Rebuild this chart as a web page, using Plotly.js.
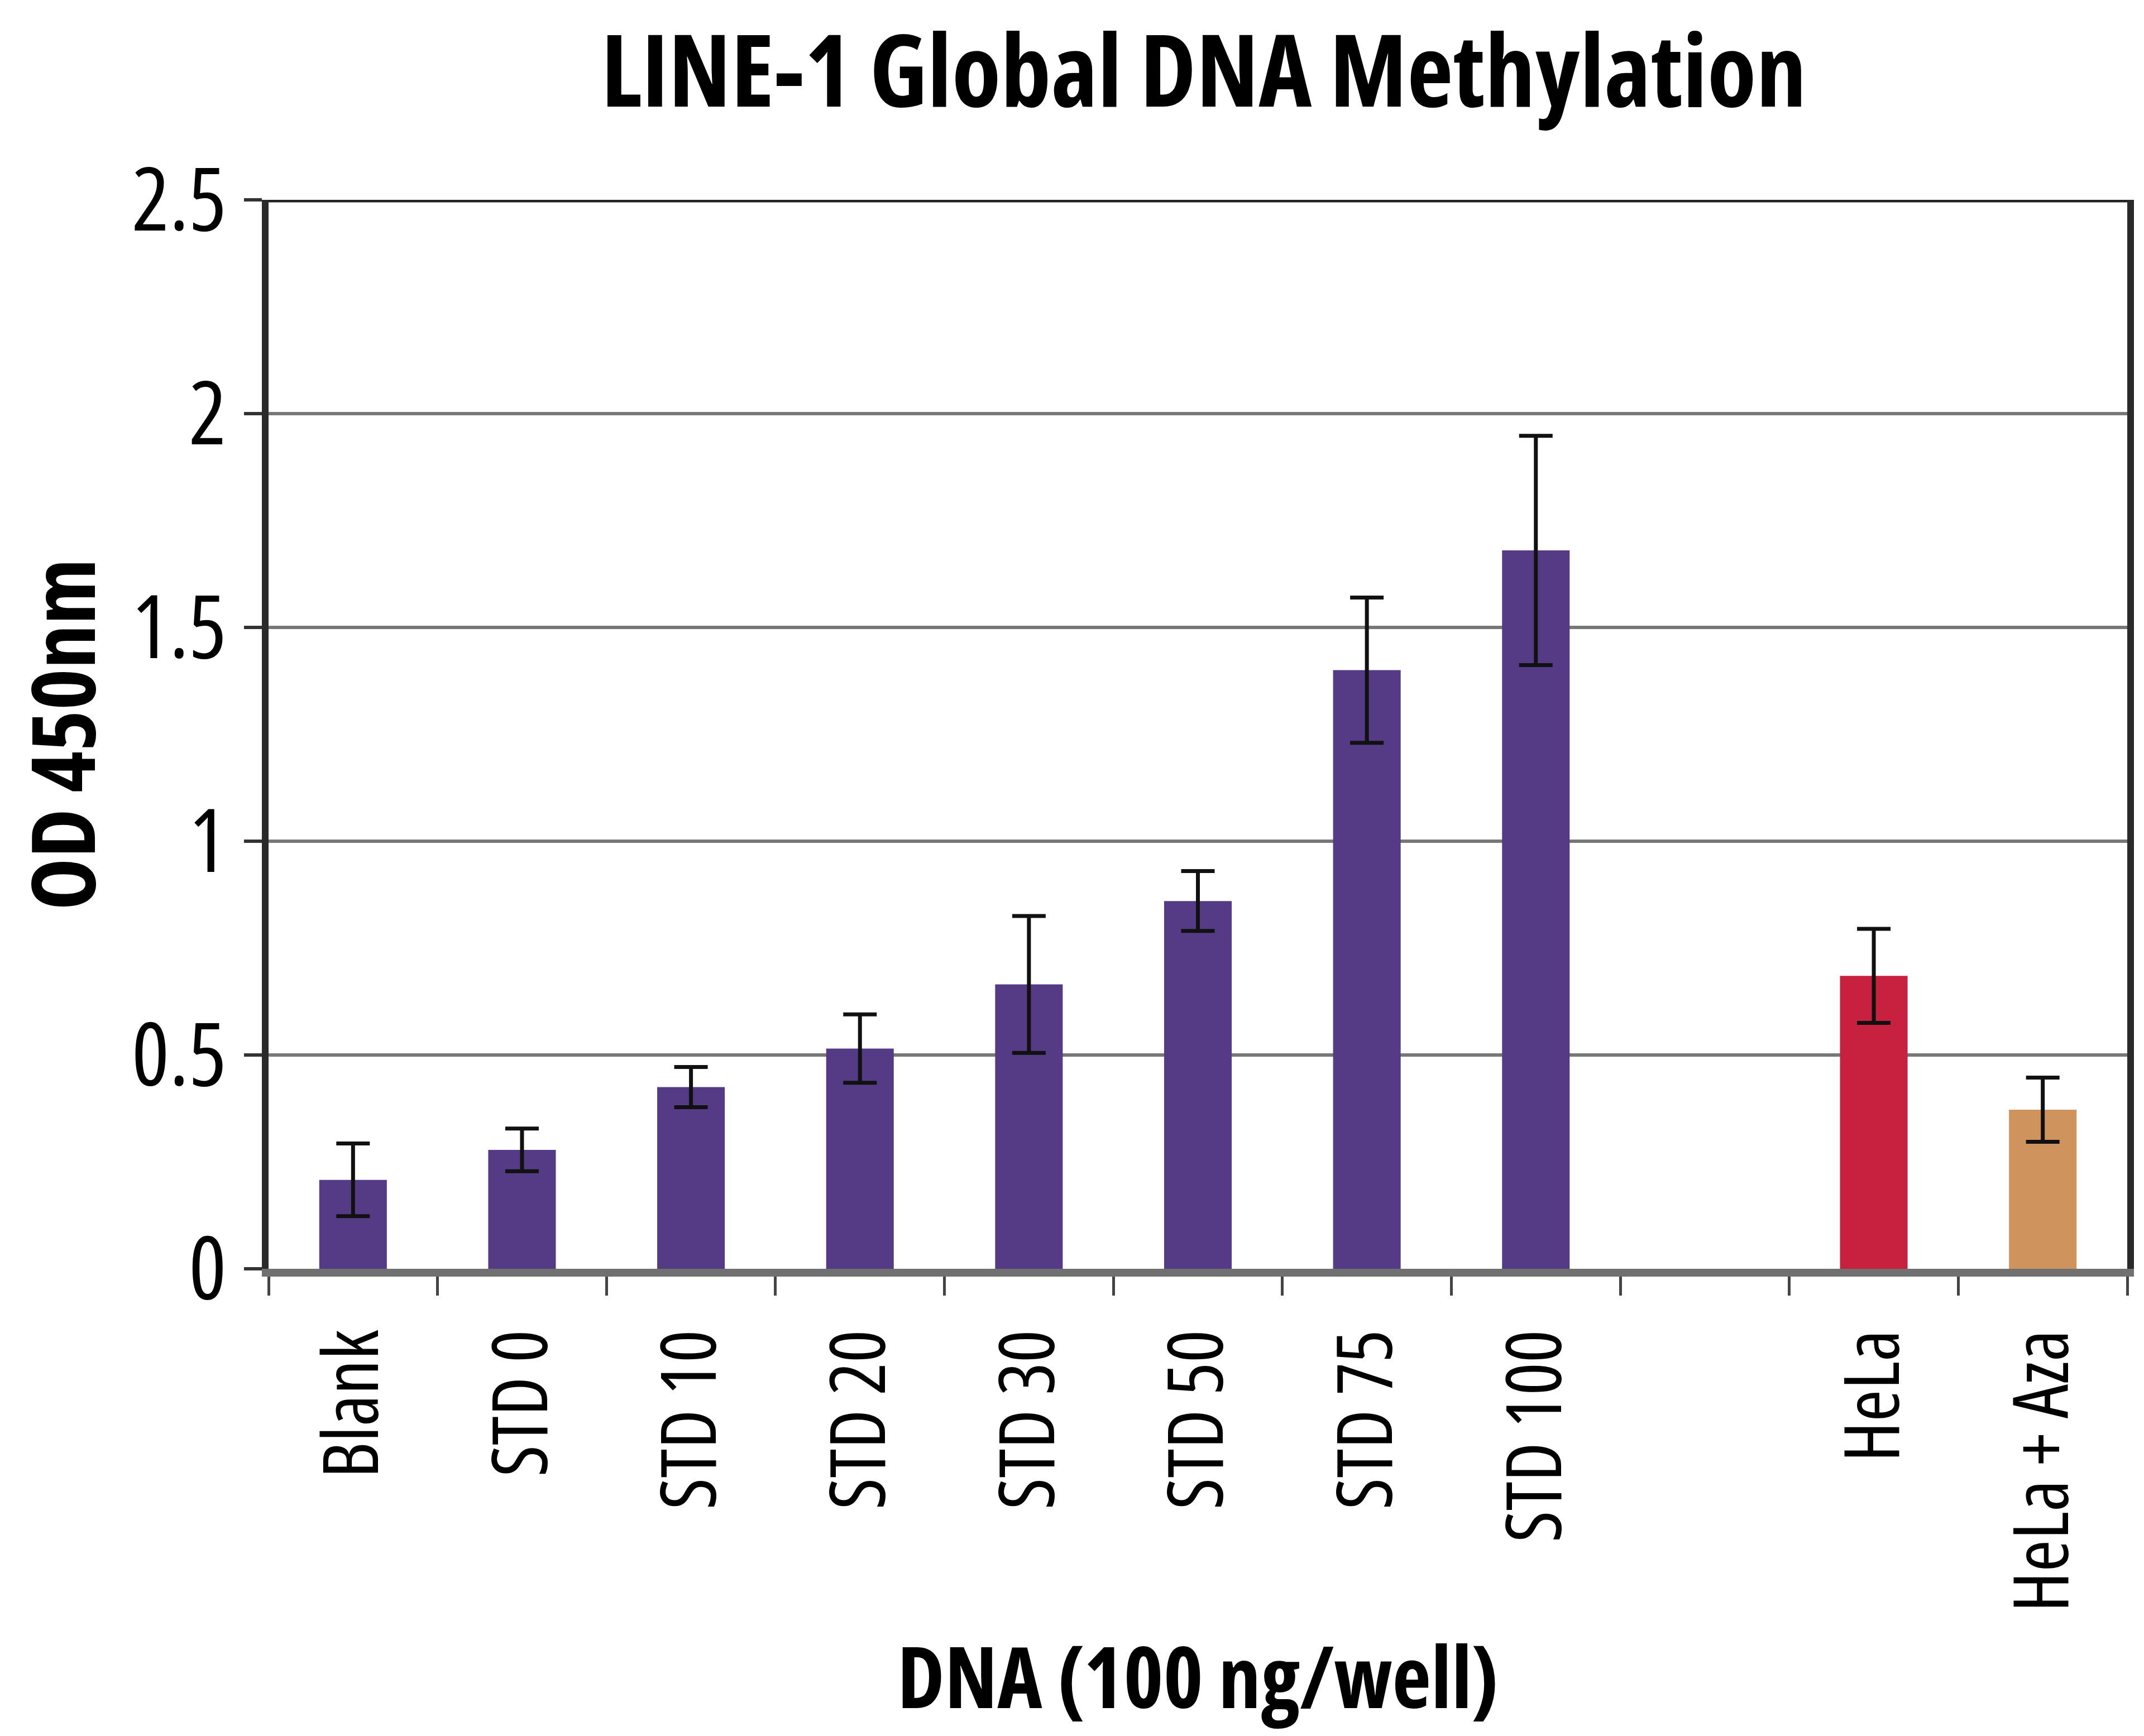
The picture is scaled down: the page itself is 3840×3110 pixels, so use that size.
<!DOCTYPE html>
<html>
<head>
<meta charset="utf-8">
<script src="https://cdn.plot.ly/plotly-3.0.1.min.js"></script>
<style>
  html, body { margin: 0; padding: 0; background: #ffffff; }
  #chart { width: 3840px; height: 3110px; }
  svg text { font-stretch: 75% !important; }
  svg .xtick text { font-stretch: 81% !important; }
</style>
</head>
<body>
<div id="chart"></div>
<script>
// ---- data ----
const categories = ["Blank", "STD 0", "STD 10", "STD 20", "STD 30", "STD 50", "STD 75", "STD 100", " ", "HeLa", "HeLa + Aza"];
const odValues   = [0.208, 0.278, 0.425, 0.515, 0.665, 0.86, 1.40, 1.68, null, 0.685, 0.372];
const odErrors   = [0.085, 0.05, 0.047, 0.08, 0.16, 0.07, 0.17, 0.268, null, 0.11, 0.075];
const barColors  = ["#553b85", "#553b85", "#553b85", "#553b85", "#553b85", "#553b85", "#553b85", "#553b85", "#553b85", "#c8213f", "#cf935d"];
const yTickVals  = [0, 0.5, 1, 1.5, 2, 2.5];
const yMax = 2.5;

const chartTitle = "LINE-1 Global DNA Methylation";
const xTitle = "DNA (100 ng/well)";
const yTitle = "OD 450nm";

const FONT = '"Open Sans", "Roboto Condensed", "Liberation Sans", Arial, sans-serif';

const trace = {
  type: "bar",
  x: categories,
  y: odValues,
  marker: { color: barColors, line: { width: 0 } },
  error_y: {
    type: "data",
    array: odErrors,
    visible: true,
    color: "#111111",
    thickness: 7,
    width: 30
  },
  hoverinfo: "x+y"
};

const layout = {
  width: 3840,
  height: 3110,
  paper_bgcolor: "#ffffff",
  plot_bgcolor: "#ffffff",
  showlegend: false,
  bargap: 0.6,
  margin: { l: 481, r: 30, t: 358, b: 837, pad: 0 },
  font: { family: FONT, color: "#000000" },
  title: {
    text: "<b>" + chartTitle + "</b>",
    font: { family: FONT, size: 180, color: "#000000" },
    xref: "container", yref: "container",
    x: 0.5615, xanchor: "center",
    y: 0.959, yanchor: "middle"
  },
  annotations: [{
    text: "<b>" + yTitle + "</b>",
    xref: "paper", yref: "paper",
    x: -0.112, y: 0.5,
    xanchor: "center", yanchor: "middle",
    textangle: -90,
    showarrow: false,
    font: { family: FONT, size: 158, color: "#000000" }
  }],
  shapes: [{
    type: "line", xref: "paper", yref: "y",
    x0: 0, x1: 1, y0: yMax, y1: yMax,
    line: { color: "#222222", width: 9 }, layer: "above"
  }],
  xaxis: {
    type: "category",
    categoryorder: "array",
    categoryarray: categories,
    tickson: "boundaries",
    ticks: "outside",
    ticklen: 34,
    tickwidth: 5,
    tickcolor: "#444444",
    showline: true,
    linecolor: "#707070",
    linewidth: 14,
    showgrid: false,
    zeroline: false,
    tickangle: -90,
    tickfont: { family: FONT, size: 138, color: "#000000" },
    ticklabelstandoff: 40,
    title: {
      text: "<b>" + xTitle + "</b>",
      font: { family: FONT, size: 152, color: "#000000" },
      standoff: 72
    },
    fixedrange: true
  },
  yaxis: {
    range: [0, yMax],
    tickvals: yTickVals,
    ticks: "outside",
    ticklen: 32,
    tickwidth: 6,
    tickcolor: "#333333",
    showline: true,
    mirror: true,
    linecolor: "#2a2a2a",
    linewidth: 12,
    showgrid: true,
    gridcolor: "#777777",
    gridwidth: 6,
    zeroline: false,
    tickfont: { family: FONT, size: 158, color: "#000000" },
    ticklabelstandoff: 0,
    fixedrange: true
  }
};

Plotly.newPlot("chart", [trace], layout, { staticPlot: true, displayModeBar: false });
</script>
</body>
</html>
